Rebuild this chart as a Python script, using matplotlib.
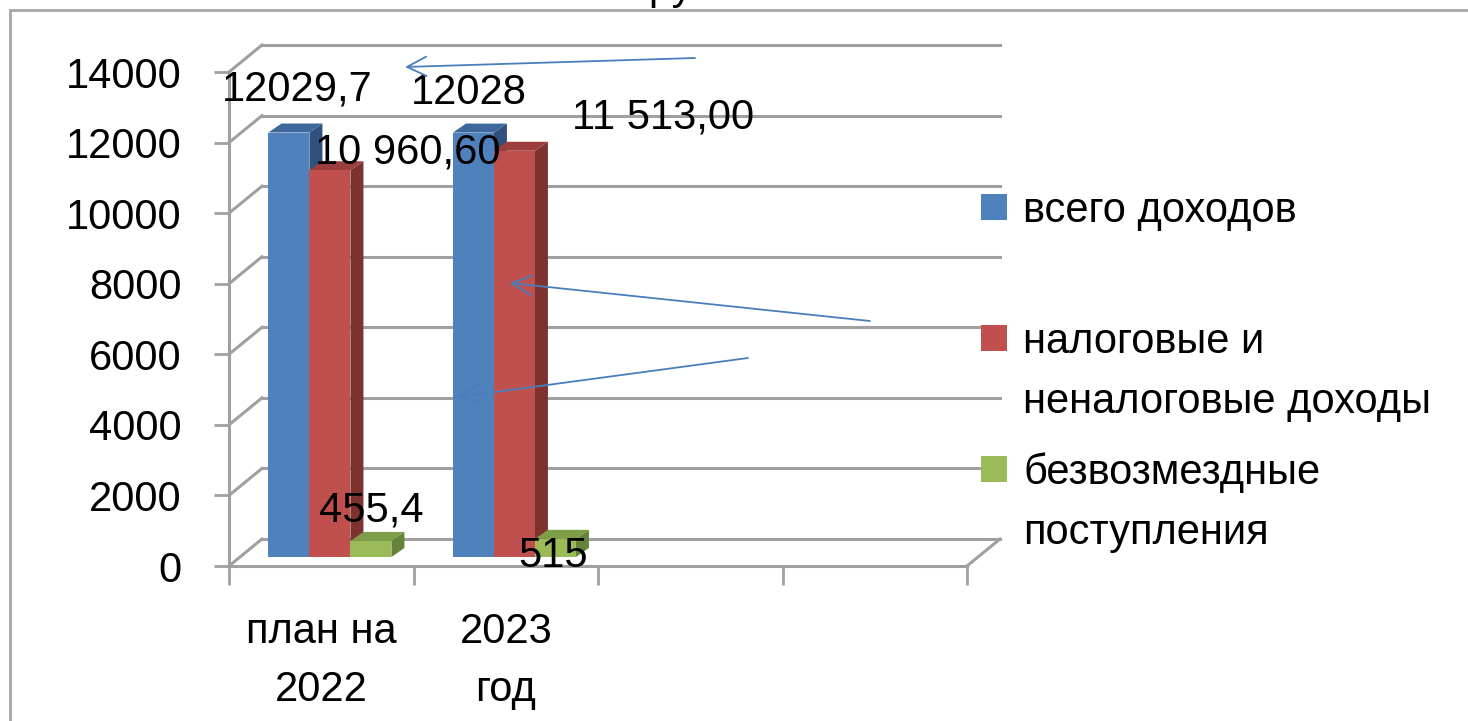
import matplotlib
matplotlib.use('Agg')
import matplotlib.pyplot as plt
from matplotlib.patches import Polygon, Rectangle

# ---- data ----
categories = ['план на\n2022', '2023\nгод', '', '']
series_names = ['всего доходов', 'налоговые и\nненалоговые доходы', 'безвозмездные\nпоступления']
total_income = [12029.7, 12028]
tax_income = [10960.60, 11513.00]
gratuitous = [455.4, 515]
label_texts = [['12029,7', '12028'], ['10 960,60', '11 513,00'], ['455,4', '515']]
y_ticks = [0, 2000, 4000, 6000, 8000, 10000, 12000, 14000]
title_text = 'тыс. руб.'

series = [total_income, tax_income, gratuitous]

# ---- style / layout ----
front_cols = ['#4F81BD', '#C0504D', '#9BBB59']
top_cols = ['#3E679C', '#9C3E3B', '#7F9E48']
side_cols = ['#30517D', '#7E3230', '#65833A']
grid_col = '#A0A0A0'
FONT = 'Liberation Sans'
FS = 30

# label positions (x in category units, y baseline in value units)
label_pos = [[(0.371, 13206), (1.301, 13093)],
             [(0.967, 11393), (2.355, 12385)],
             [(0.770, 1275), (1.756, -28)]]

W, H = 1468, 721
fig = plt.figure(figsize=(W / 100, H / 100), dpi=100)
ax = fig.add_axes([229 / W, (H - 566) / H, 738 / W, 494 / H])
ax.set_xlim(0, 4)
ax.set_ylim(0, 14000)
for sp in ax.spines.values():
    sp.set_visible(False)
ax.patch.set_alpha(0)

px_x = 738 / 4.0          # pixels per category
px_y = 494 / 14000.0      # pixels per value unit
DX, DY = 33 / px_x, 27 / px_y      # wall depth
BX, BY = 13 / px_x, 9 / px_y       # bar depth
BASE = 9 / px_y                     # bar base offset (inside floor)
BW = 41 / px_x                      # bar width
GC = 0.547                          # group centre within category

# walls / gridlines
for v in y_ticks:
    ax.plot([DX, 4 + DX], [v + DY, v + DY], color=grid_col, lw=2.2, clip_on=False, zorder=1)
    ax.plot([0, DX], [v, v + DY], color=grid_col, lw=2.2, clip_on=False, zorder=1)
ax.plot([0, 0], [0, 14000], color=grid_col, lw=2.2, clip_on=False, zorder=1)
ax.plot([0, 4], [0, 0], color=grid_col, lw=2.2, clip_on=False, zorder=1)
ax.plot([4, 4 + DX], [0, DY], color=grid_col, lw=2.2, clip_on=False, zorder=1)

# ticks
ax.set_yticks(y_ticks)
ax.set_yticklabels([str(v) for v in y_ticks], fontsize=FS, family=FONT)
ax.tick_params(axis='y', length=11, width=2, color=grid_col, pad=23)
ax.set_xticks([i + 0.5 for i in range(4)])
ax.set_xticklabels(categories, fontsize=FS, family=FONT, linespacing=1.6)
ax.tick_params(axis='x', which='major', length=0, pad=33)
ax.set_xticks(range(5), minor=True)
ax.tick_params(axis='x', which='minor', length=14, width=2, color=grid_col)

# bars
z = 3
n = len(series)
for i in range(len(total_income)):
    for s in range(n):
        val = series[s][i]
        x0 = i + GC - n * BW / 2 + s * BW
        side = Polygon([(x0 + BW, BASE), (x0 + BW + BX, BASE + BY),
                        (x0 + BW + BX, BASE + val + BY), (x0 + BW, BASE + val)],
                       closed=True, facecolor=side_cols[s], edgecolor='none', zorder=z, clip_on=False)
        top = Polygon([(x0, BASE + val), (x0 + BX, BASE + val + BY),
                       (x0 + BW + BX, BASE + val + BY), (x0 + BW, BASE + val)],
                      closed=True, facecolor=top_cols[s], edgecolor='none', zorder=z, clip_on=False)
        ax.add_patch(side)
        ax.add_patch(top)
        ax.bar(x0, val, width=BW, bottom=BASE, align='edge', color=front_cols[s],
               edgecolor='none', zorder=z + 0.5)
        z += 1

# data labels
for s in range(n):
    for i in range(len(total_income)):
        x, y = label_pos[s][i]
        ax.text(x, y, label_texts[s][i], ha='center', va='baseline', fontsize=FS,
                family=FONT, zorder=50, clip_on=False)

# arrows (annotation shapes)
arrows = [((2.526, 14397), (0.954, 14142)),
          ((3.474, 6943), (1.523, 8020)),
          ((2.813, 5895), (1.241, 4789))]
for tail, head in arrows:
    ax.annotate('', xy=head, xytext=tail, annotation_clip=False,
                arrowprops=dict(arrowstyle='->,head_length=0.7,head_width=0.35',
                                color='#4A7EBB', lw=1.3, mutation_scale=20,
                                shrinkA=0, shrinkB=0), zorder=60)

# legend (custom)
leg_rows = [(207, ['всего доходов']),
            (338, ['налоговые и', 'неналоговые доходы']),
            (469, ['безвозмездные', 'поступления'])]
for s, (yc, lines) in enumerate(leg_rows):
    fig.patches.append(Rectangle(((981) / W, (H - yc - 13) / H), 26 / W, 26 / H,
                                 transform=fig.transFigure, facecolor=front_cols[s],
                                 edgecolor='none'))
    for k, line in enumerate(lines):
        fig.text(1023 / W, (H - (yc + 15 + 60 * k)) / H, line, ha='left', va='baseline',
                 fontsize=FS, family=FONT)

# outer frame
fig.patches.append(Rectangle((10 / W, -0.1), 1.2, (H - 10) / H + 0.1, transform=fig.transFigure,
                             facecolor='none', edgecolor='#A6A6A6', lw=2))

# title, cut off at the top edge as in the reference
fig.text(556 / W, 1 + 1 / H, title_text, ha='left', va='baseline', fontsize=FS, family=FONT)

fig.savefig('out.png', dpi=100)
